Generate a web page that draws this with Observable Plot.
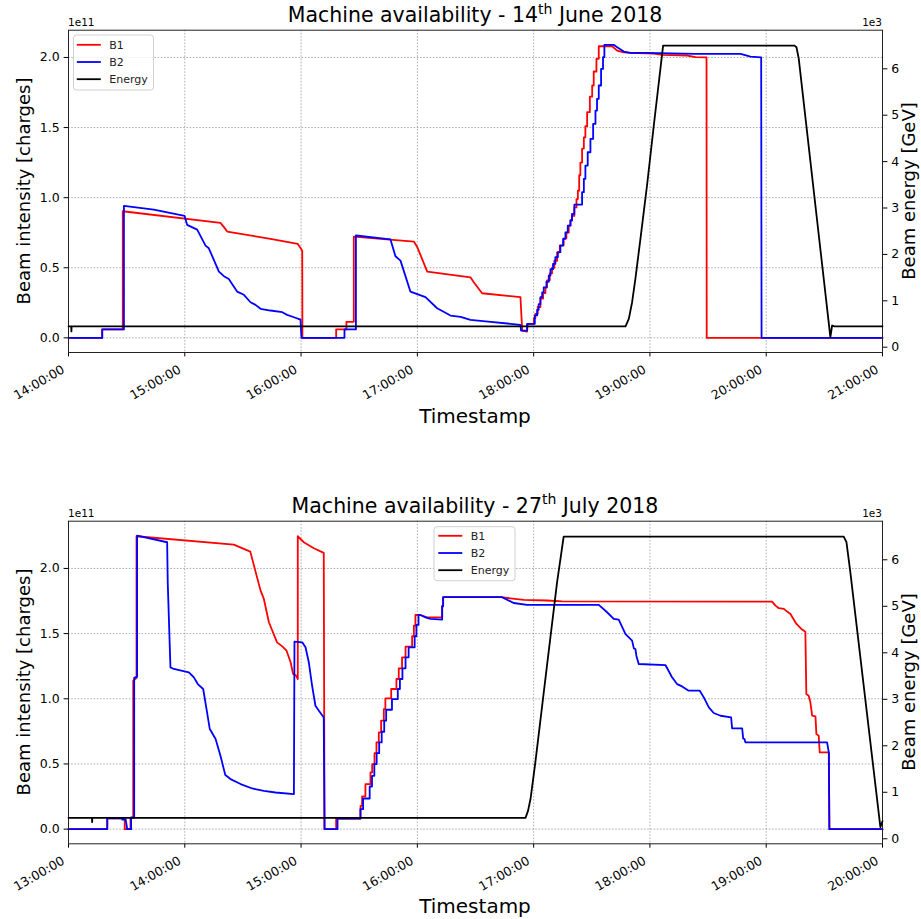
<!DOCTYPE html>
<html><head><meta charset="utf-8">
<script src="https://cdn.jsdelivr.net/npm/d3@7"></script>
<script src="https://cdn.jsdelivr.net/npm/@observablehq/plot@0.6"></script>
<style>
body{margin:0;background:#fff;}
#chart{position:relative;width:921px;height:919px;overflow:hidden;font-family:"DejaVu Sans",sans-serif;}
#chart svg{position:absolute;left:0;}
</style></head><body><div id="chart"></div>
<script>
// ---------- data: [minutes after first tick, value] ----------
// intensity in units of 1e11 charges, energy in GeV
const juneTicks = ["14:00:00","15:00:00","16:00:00","17:00:00","18:00:00","19:00:00","20:00:00","21:00:00"];
const julyTicks = ["13:00:00","14:00:00","15:00:00","16:00:00","17:00:00","18:00:00","19:00:00","20:00:00"];
const intensityTicks = [0, 0.5, 1.0, 1.5, 2.0];
const energyTicks = [0, 1000, 2000, 3000, 4000, 5000, 6000];
const seriesNames = ["B1", "B2", "Energy"];

const juneB1 = [[0,0],[17.4,0],[17.4,0.06],[28.0,0.06],[28.0,0.903],[78.4,0.820],[80.2,0.79],[81.9,0.758],[104.2,0.706],[118.3,0.670],[120.0,0.635],[120.6,0.62],[120.7,0],
[138.1,0],[138.1,0.06],[143.4,0.06],[143.4,0.114],[147.2,0.114],[147.2,0.722],[178.2,0.687],[180.0,0.646],[185.1,0.473],[207.4,0.432],[209.1,0.397],[213.4,0.318],[233.2,0.29],[234.1,0.052],[236.6,0.045],[237.0,0.10],
[240.1,0.10],[240.1,0.14],[240.9,0.14],[240.9,0.17],[242.1,0.17],[242.1,0.22],[243.5,0.22],[243.5,0.28],[244.9,0.28],[244.9,0.32],[246.1,0.32],[246.1,0.36],[246.9,0.36],[246.9,0.41],[248.3,0.41],[248.3,0.46],[249.5,0.46],[249.5,0.50],[250.7,0.50],[250.7,0.55],[252.1,0.55],[252.1,0.61],[253.5,0.61],[253.5,0.66],[255.5,0.66],[255.5,0.71],[256.9,0.71],[256.9,0.75],[258.1,0.75],[258.1,0.80],[259.0,0.80],[259.0,0.84],[259.8,0.84],[259.8,0.87],[261.0,0.87],[261.0,0.93],[262.1,0.93],[262.1,0.99],[262.8,0.99],[262.8,1.05],[263.5,1.05],[263.5,1.16],[264.1,1.16],[264.1,1.25],[265.0,1.25],[265.0,1.35],[265.9,1.35],[265.9,1.43],[266.7,1.43],[266.7,1.51],[267.6,1.51],[267.6,1.61],[269.0,1.61],[269.0,1.72],[270.2,1.72],[270.2,1.80],[271.0,1.80],[271.0,1.90],[272.4,1.90],[272.4,1.99],[273.6,1.99],[273.6,2.08],
[280.5,2.08],[283.1,2.049],[286.5,2.037],[289.9,2.033],[302.0,2.028],[306.3,2.018],[319.2,2.014],[323.5,2.002],[329.2,2.0],[329.3,0],[420,0]];

const juneB2 = [[0,0],[17.4,0],[17.4,0.06],[28.6,0.06],[28.6,0.941],[44,0.915],[59.9,0.870],[61.2,0.806],[66.4,0.772],[70.7,0.658],[72.4,0.639],[77.6,0.473],[80.2,0.44],[82.7,0.42],[87.0,0.33],[90.5,0.307],[93.9,0.254],[96.5,0.235],[99.1,0.207],[104.2,0.195],[110.3,0.183],[112.8,0.164],[116.3,0.147],[119.7,0.13],[120.2,0],
[142.4,0],[142.4,0.06],[148.3,0.06],[148.3,0.73],[166.1,0.703],[168.7,0.582],[171.3,0.551],[176.4,0.33],[184.2,0.29],[190.2,0.211],[197.1,0.159],[202.3,0.15],[207.4,0.128],[215.2,0.118],[233.2,0.093],[233.5,0.052],[236.6,0.052],[236.6,0.10],
[240.6,0.10],[240.6,0.16],[241.8,0.16],[241.8,0.20],[242.6,0.20],[242.6,0.24],[243.5,0.24],[243.5,0.29],[244.4,0.29],[244.4,0.325],[245.2,0.325],[245.2,0.36],[246.6,0.36],[246.6,0.40],[247.8,0.40],[247.8,0.444],[248.7,0.444],[248.7,0.49],[250.0,0.49],[250.0,0.528],[251.2,0.528],[251.2,0.575],[252.5,0.575],[252.5,0.611],[253.8,0.611],[253.8,0.658],[255.2,0.658],[255.2,0.706],[256.4,0.706],[256.4,0.753],[257.6,0.753],[257.6,0.801],[259.0,0.801],[259.0,0.837],[259.8,0.837],[259.8,0.884],[261.0,0.884],[261.0,0.951],[265.0,0.951],[265.0,1.039],[265.9,1.039],[265.9,1.134],[266.7,1.134],[266.7,1.229],[267.9,1.229],[267.9,1.324],[269.3,1.324],[269.3,1.419],[270.7,1.419],[270.7,1.526],[271.9,1.526],[271.9,1.621],[272.7,1.621],[272.7,1.705],[273.6,1.705],[273.6,1.80],[274.8,1.80],[274.8,1.918],[275.8,1.918],[275.8,2.002],[276.5,2.002],[276.5,2.09],
[281.3,2.09],[283.1,2.073],[286.5,2.042],[289.9,2.033],[298.5,2.033],[323.5,2.025],[346.8,2.025],[351.9,2.006],[357.4,2.0],[357.6,0],[420,0]];

const juneEnergy = [[0,450],[1.4,450],[1.5,340],[1.6,450],[287.4,450],[289.1,612],[290.8,970],[292.5,1474],[295.1,2336],[298.5,3485],[302.0,4778],[305.4,6000],[306.8,6500],[374.6,6500],[375.6,6466],[376.8,6216],[393.1,216],[394.0,468],[395.2,450],[420,450]];

const julyB1 = [[0,0],[20.0,0],[20.0,0.082],[29.0,0.082],[29.0,0],[32.0,0],[32.0,0.085],[33.4,0.085],[33.4,1.139],[35.1,1.16],[35.1,2.247],[85.3,2.183],[93.8,2.129],[99.1,1.83],[100.8,1.766],[103.4,1.587],[107.6,1.433],[110.3,1.402],[112.5,1.369],[114.6,1.28],[115.9,1.19],[117.3,1.18],[118.3,1.152],[118.3,2.247],[121.4,2.201],[126.6,2.155],[131.7,2.12],[132.1,0],[138.1,0],[138.1,0.081],
[150.7,0.081],[150.7,0.179],[151.5,0.179],[151.5,0.251],[153.2,0.251],[153.2,0.345],[155.8,0.345],[155.8,0.435],[156.7,0.435],[156.7,0.499],[157.9,0.499],[157.9,0.583],[158.9,0.583],[158.9,0.665],[160.1,0.665],[160.1,0.742],[161.3,0.742],[161.3,0.832],[162.7,0.832],[162.7,0.921],[163.5,0.921],[163.5,1.003],[166.5,1.003],[166.5,1.075],[169.2,1.075],[169.2,1.152],[170.4,1.152],[170.4,1.234],[172.1,1.234],[172.1,1.318],[173.9,1.318],[173.9,1.40],[177.3,1.40],[177.3,1.48],[178.2,1.48],[178.2,1.561],[179.0,1.561],[179.0,1.643],[181.6,1.643],[185.0,1.625],[192.8,1.625],[192.8,1.71],[193.3,1.71],[193.3,1.78],
[222.9,1.78],[228.0,1.771],[234.9,1.759],[246.9,1.754],[254.7,1.748],[363.0,1.746],[364.8,1.715],[366.5,1.695],[369.1,1.69],[370.8,1.669],[372.5,1.651],[375.6,1.574],[378.5,1.531],[380.2,1.515],[380.7,1.037],[381.9,1.024],[382.8,0.973],[383.7,0.870],[385.4,0.865],[385.9,0.729],[387.1,0.717],[387.6,0.589],[392.3,0.589],[392.6,0],[420,0]];

const julyB2 = [[0,0],[20.0,0],[20.0,0.082],[27.7,0.082],[27.7,0.074],[29.5,0.074],[30.3,0],[32.3,0],[32.3,0.09],[33.9,0.09],[33.9,1.16],[35.4,1.17],[35.4,2.252],[50.9,2.201],[51.2,1.894],[52.6,1.241],[54.3,1.229],[62.1,1.203],[64.7,1.164],[66.7,1.113],[69.5,1.075],[71.2,0.922],[72.9,0.768],[75.9,0.691],[78.4,0.563],[80.9,0.415],[83.6,0.384],[88.8,0.346],[94.8,0.312],[100.8,0.294],[106.8,0.281],[116.3,0.269],[116.6,1.439],[120.6,1.433],[122.3,1.395],[124.0,1.28],[125.7,1.10],[127.4,0.947],[129.2,0.909],[131.7,0.857],[132.1,0],[138.8,0],[138.8,0.081],
[150.6,0.081],[150.6,0.153],[152.0,0.153],[152.0,0.235],[155.4,0.235],[155.4,0.327],[156.6,0.327],[156.6,0.409],[157.8,0.409],[157.8,0.499],[159.0,0.499],[159.0,0.583],[160.3,0.583],[160.3,0.665],[161.6,0.665],[161.6,0.747],[162.9,0.747],[162.9,0.832],[163.9,0.832],[163.9,0.916],[166.9,0.916],[166.9,0.998],[169.9,0.998],[169.9,1.075],[171.0,1.075],[171.0,1.152],[172.3,1.152],[172.3,1.234],[173.9,1.234],[173.9,1.318],[175.5,1.318],[175.5,1.395],[178.6,1.395],[178.6,1.48],[179.5,1.48],[179.5,1.567],[180.6,1.567],[180.6,1.643],[181.6,1.643],[184.2,1.625],[186.8,1.613],[192.8,1.608],[192.8,1.71],[193.3,1.71],[193.3,1.78],
[223.7,1.78],[229.7,1.735],[236.6,1.72],[273.6,1.72],[277.9,1.664],[281.3,1.613],[283.9,1.608],[287.4,1.497],[290.8,1.446],[291.7,1.387],[292.5,1.382],[293.0,1.331],[294.2,1.267],[308.0,1.259],[311.4,1.165],[314.0,1.113],[316.6,1.095],[320.0,1.062],[325.7,1.062],[327.8,1.011],[330.4,0.934],[332.9,0.891],[336.4,0.87],[341.9,0.857],[342.4,0.773],[347.6,0.773],[348.1,0.696],[348.8,0.691],[349.3,0.665],[391.4,0.665],[392.3,0.589],[392.6,0],[420,0]];

const julyEnergy = [[0,450],[12.1,450],[12.2,357],[12.3,450],[235.8,450],[237.1,600],[238.4,860],[240.9,1647],[246.9,3727],[252.1,5518],[255.5,6500],[400.0,6500],[401.4,6379],[403.4,5734],[418.9,250],[419.8,357],[420,380]];

// ---------- drawing ----------
const chart = document.getElementById("chart");
const FONT = "DejaVu Sans";
const gridStyle = {stroke: "#777", strokeOpacity: 0.75, strokeWidth: 0.8, strokeDasharray: "1.6,1.6"};
const lineStyle = {strokeWidth: 1.8, strokeLinejoin: "round"};

function drawPanel(cfg) {
  const rows = arr => arr.map(([m, v]) => ({t: new Date(cfg.t0 + m * 60000), v}));
  const parse = d3.utcParse("%Y-%m-%d %H:%M:%S");
  const hours = cfg.ticks.map(s => parse(cfg.date + " " + s));
  const fmt = d3.utcFormat("%H:%M:%S");
  const common = {
    width: 921, height: cfg.height,
    marginLeft: 68, marginRight: 39, marginTop: cfg.mt, marginBottom: cfg.mb,
    style: {fontFamily: FONT, fontSize: "12.5px", color: "#000", background: "transparent", overflow: "visible"}
  };
  const a = Plot.plot({
    ...common,
    x: {type: "utc", domain: [hours[0], hours[hours.length - 1]]},
    y: {domain: cfg.iDomain},
    marks: [
      Plot.gridX(hours, gridStyle),
      Plot.gridY(intensityTicks, gridStyle),
      Plot.line(rows(cfg.b1), {x: "t", y: "v", stroke: "#ff0000", ...lineStyle}),
      Plot.line(rows(cfg.b2), {x: "t", y: "v", stroke: "#0000ff", ...lineStyle}),
      Plot.axisY({ticks: intensityTicks, tickFormat: d => d.toFixed(1), tickSize: 4.4, tickPadding: 4.4, label: null}),
      Plot.axisX({ticks: hours, tickFormat: () => "", tickSize: 4.4, label: null}),
      Plot.axisX({ticks: hours, tickFormat: fmt, tickSize: 0, tickPadding: 16, tickRotate: -30, dx: -5, label: null}),
      Plot.frame({stroke: "#222", strokeWidth: 1})
    ]
  });
  const b = Plot.plot({
    ...common,
    x: {type: "utc", domain: [hours[0], hours[hours.length - 1]], axis: null},
    y: {domain: cfg.eDomain},
    marks: [
      Plot.line(rows(cfg.energy), {x: "t", y: "v", stroke: "#000", ...lineStyle}),
      Plot.axisY({anchor: "right", ticks: energyTicks, tickFormat: d => String(d / 1000), tickSize: 4.4, tickPadding: 4.4, label: null})
    ]
  });
  for (const s of [a, b]) { s.style.top = cfg.top + "px"; chart.appendChild(s); }
}

drawPanel({top: 0, height: 460, mt: 29.7, mb: 108, t0: Date.UTC(2018, 5, 14, 14), date: "2018-06-14", ticks: juneTicks,
  iDomain: [-0.1045, 2.1945], eDomain: [-114, 6832], b1: juneB1, b2: juneB2, energy: juneEnergy});
drawPanel({top: 460, height: 459, mt: 60.7, mb: 75.7, t0: Date.UTC(2018, 6, 27, 13), date: "2018-07-27", ticks: julyTicks,
  iDomain: [-0.1125, 2.3625], eDomain: [-108, 6830], b1: julyB1, b2: julyB2, energy: julyEnergy});

// ---------- titles, labels, legends ----------
const svg = d3.select(chart).append("svg").attr("width", 921).attr("height", 919)
  .style("top", "0px").style("pointer-events", "none").attr("font-family", FONT);

function texts(o) {
  const t = svg.append("text").attr("x", 475).attr("y", o.titleY).attr("text-anchor", "middle").attr("font-size", 20.5).attr("fill", "#000");
  t.append("tspan").text(o.titleA);
  t.append("tspan").attr("dy", -8.5).attr("font-size", 14).text("th");
  t.append("tspan").attr("dy", 8.5).text(o.titleB);
  svg.append("text").attr("x", 475).attr("y", o.xLabY).attr("text-anchor", "middle").attr("font-size", 20).text("Timestamp");
  svg.append("text").attr("transform", `translate(29.5,${o.midY}) rotate(-90)`).attr("text-anchor", "middle").attr("font-size", 18).text("Beam intensity [charges]");
  svg.append("text").attr("transform", `translate(915,${o.midY}) rotate(-90)`).attr("text-anchor", "middle").attr("font-size", 18).text("Beam energy [GeV]");
  svg.append("text").attr("x", 68).attr("y", o.offY).attr("font-size", 10.5).text("1e11");
  svg.append("text").attr("x", 882).attr("y", o.offY).attr("text-anchor", "end").attr("font-size", 10.5).text("1e3");
  const L = o.legend;
  svg.append("rect").attr("x", L.x).attr("y", L.y).attr("width", L.w).attr("height", L.h).attr("rx", 3)
    .attr("fill", "#fff").attr("fill-opacity", 0.8).attr("stroke", "#d0d0d0").attr("stroke-width", 1);
  const cols = ["#ff0000", "#0000ff", "#000"];
  seriesNames.forEach((n, i) => {
    const yy = L.y0 + i * 17.2;
    svg.append("line").attr("x1", L.lx).attr("x2", L.lx + 24).attr("y1", yy).attr("y2", yy).attr("stroke", cols[i]).attr("stroke-width", 1.8);
    svg.append("text").attr("x", L.lx + 32.5).attr("y", yy).attr("dy", "0.36em").attr("font-size", 11).attr("fill", "#222").text(n);
  });
}
texts({titleY: 22, titleA: "Machine availability - 14", titleB: " June 2018", xLabY: 422.5, midY: 191, offY: 26.3,
  legend: {x: 73.5, y: 35, w: 80, h: 55, y0: 44.8, lx: 76.8}});
texts({titleY: 512.7, titleA: "Machine availability - 27", titleB: " July 2018", xLabY: 913.3, midY: 682, offY: 516.5,
  legend: {x: 434, y: 526.7, w: 81, h: 54, y0: 535.8, lx: 438.3}});
</script></body></html>
